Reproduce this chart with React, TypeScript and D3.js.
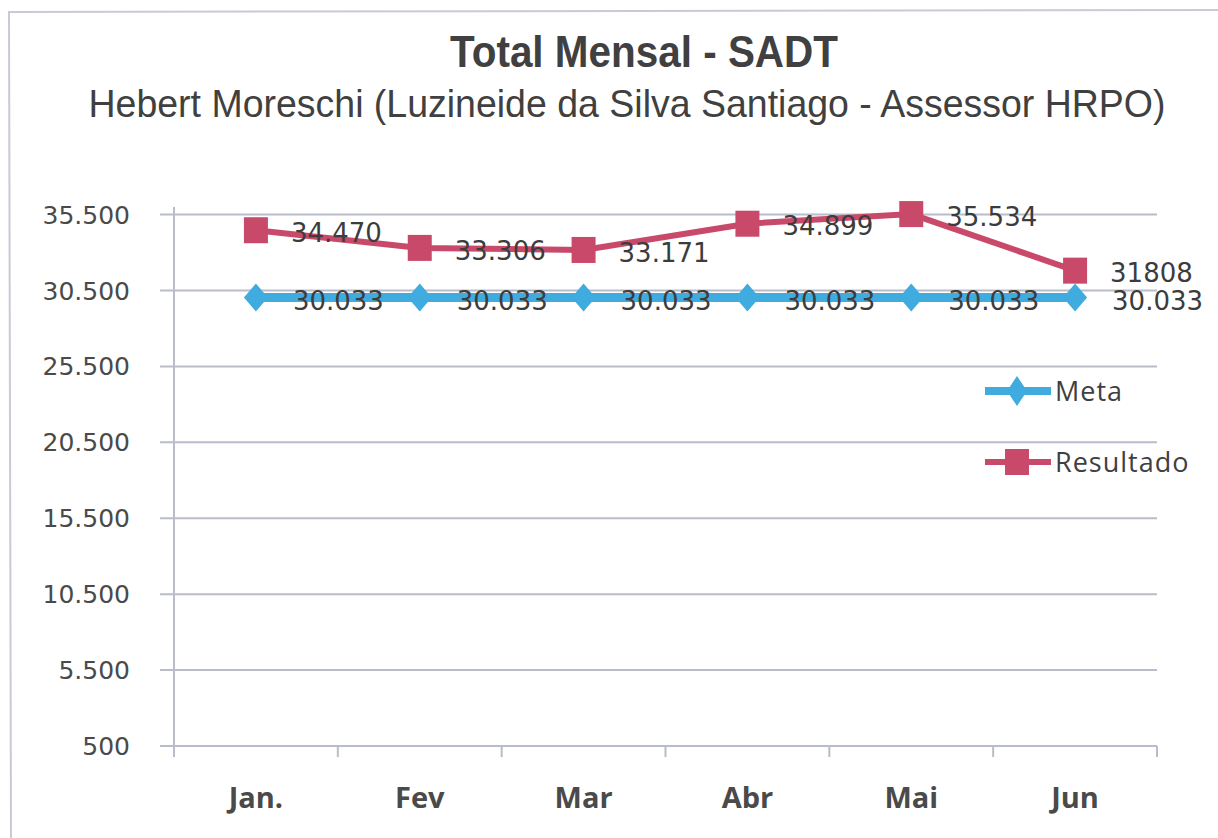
import * as d3 from "d3";

// chart data
const months = ["Jan.", "Fev", "Mar", "Abr", "Mai", "Jun"];
const meta = [30033, 30033, 30033, 30033, 30033, 30033];
const resultado = [34470, 33306, 33171, 34899, 35534, 31808];
// labels as printed on the chart (Jun has no separator in the original)
const resultadoLabels = ["34.470", "33.306", "33.171", "34.899", "35.534", "31808"];
const yTicks = [500, 5500, 10500, 15500, 20500, 25500, 30500, 35500];

const W = 1218;
const H = 838;
const blue = "#40ABDE";
const red = "#C9496B";
const grid = "#B9BDCB";
const numFont = "'DejaVu Sans', Verdana, sans-serif";
const labelFont = "'Open Sans', 'Noto Sans', sans-serif";

const ptBR = d3.formatLocale({ decimal: ",", thousands: ".", grouping: [3], currency: ["R$", ""] });
const fmt = ptBR.format(",d");

export default function App() {
  const x = d3.scaleBand<string>().domain(months).range([174, 1157]);
  const y = d3.scaleLinear().domain([500, 36000]).range([746, 207]);
  const cx = (m: string) => (x(m) ?? 0) + x.bandwidth() / 2;

  const line = d3
    .line<number>()
    .x((_, i) => cx(months[i]))
    .y((v) => y(v));

  const diamond = (px: number, py: number, w = 24, h = 28) =>
    `M${px},${py - h / 2}L${px + w / 2},${py}L${px},${py + h / 2}L${px - w / 2},${py}Z`;

  const boundaries = months.map((m) => x(m) ?? 0).concat([x.range()[1]]);

  return (
    <svg
      width={W}
      height={H}
      style={{ position: "absolute", left: 0, top: 0, background: "#fff" }}
    >
      {/* outer frame (top and left edges only visible) */}
      <line x1={8} y1={12} x2={W} y2={10} stroke="#C9CAD8" strokeWidth={2} />
      <line x1={9} y1={12} x2={11} y2={H} stroke="#C9CAD8" strokeWidth={2} />

      {/* titles */}
      <text
        x={644}
        y={67}
        textAnchor="middle"
        fontFamily="'Liberation Sans', Arial, sans-serif"
        fontWeight="bold"
        fontSize={45}
        fill="#404040"
        textLength={388}
        lengthAdjust="spacingAndGlyphs"
      >
        Total Mensal - SADT
      </text>
      <text
        x={627}
        y={117}
        textAnchor="middle"
        fontFamily="'Liberation Sans', Arial, sans-serif"
        fontSize={39}
        fill="#404040"
        textLength={1077}
        lengthAdjust="spacingAndGlyphs"
      >
        Hebert Moreschi (Luzineide da Silva Santiago - Assessor HRPO)
      </text>

      {/* gridlines + y ticks */}
      {yTicks.map((t) => (
        <g key={t}>
          <line x1={160} x2={1157} y1={y(t)} y2={y(t)} stroke={grid} strokeWidth={2} />
          <text
            x={130}
            y={y(t)}
            dy="0.36em"
            textAnchor="end"
            fontFamily={numFont}
            fontSize={25}
            fill="#4A4A4A"
          >
            {fmt(t)}
          </text>
        </g>
      ))}
      <line x1={174} x2={174} y1={y(36000)} y2={746} stroke={grid} strokeWidth={2} />

      {/* x ticks and labels */}
      {boundaries.map((b, i) => (
        <line key={i} x1={b} x2={b} y1={746} y2={757} stroke={grid} strokeWidth={2} />
      ))}
      {months.map((m) => (
        <text
          key={m}
          x={cx(m)}
          y={808}
          textAnchor="middle"
          fontFamily={labelFont}
          fontWeight={700}
          fontSize={29}
          fill="#4A4A4A"
        >
          {m}
        </text>
      ))}

      {/* Meta series */}
      <path d={line(meta) ?? ""} fill="none" stroke={blue} strokeWidth={9} />
      {meta.map((v, i) => (
        <path key={i} d={diamond(cx(months[i]), y(v))} fill={blue} />
      ))}

      {/* Resultado series */}
      <path d={line(resultado) ?? ""} fill="none" stroke={red} strokeWidth={6} />
      {resultado.map((v, i) => (
        <rect key={i} x={cx(months[i]) - 12} y={y(v) - 13} width={24} height={26} fill={red} />
      ))}

      {/* data labels */}
      {meta.map((v, i) => (
        <text
          key={i}
          x={cx(months[i]) + 37}
          y={y(v)}
          dy="0.47em"
          fontFamily={numFont}
          fontSize={26}
          fill="#3C3C3C"
        >
          {fmt(v)}
        </text>
      ))}
      {resultado.map((v, i) => (
        <text
          key={i}
          x={cx(months[i]) + 35}
          y={y(v)}
          dy="0.45em"
          fontFamily={numFont}
          fontSize={26}
          fill="#3C3C3C"
        >
          {resultadoLabels[i]}
        </text>
      ))}

      {/* legend */}
      <g fontFamily={labelFont} fontSize={27} fill="#404040">
        <line x1={985} x2={1051} y1={391} y2={391} stroke={blue} strokeWidth={8} />
        <path d={diamond(1017, 391, 20, 30)} fill={blue} />
        <text x={1055} y={391} dy="0.36em" letterSpacing={1}>
          Meta
        </text>
        <line x1={985} x2={1051} y1={462} y2={462} stroke={red} strokeWidth={6} />
        <rect x={1005} y={449} width={24} height={26} fill={red} />
        <text x={1055} y={462} dy="0.36em" letterSpacing={1}>
          Resultado
        </text>
      </g>
    </svg>
  );
}
